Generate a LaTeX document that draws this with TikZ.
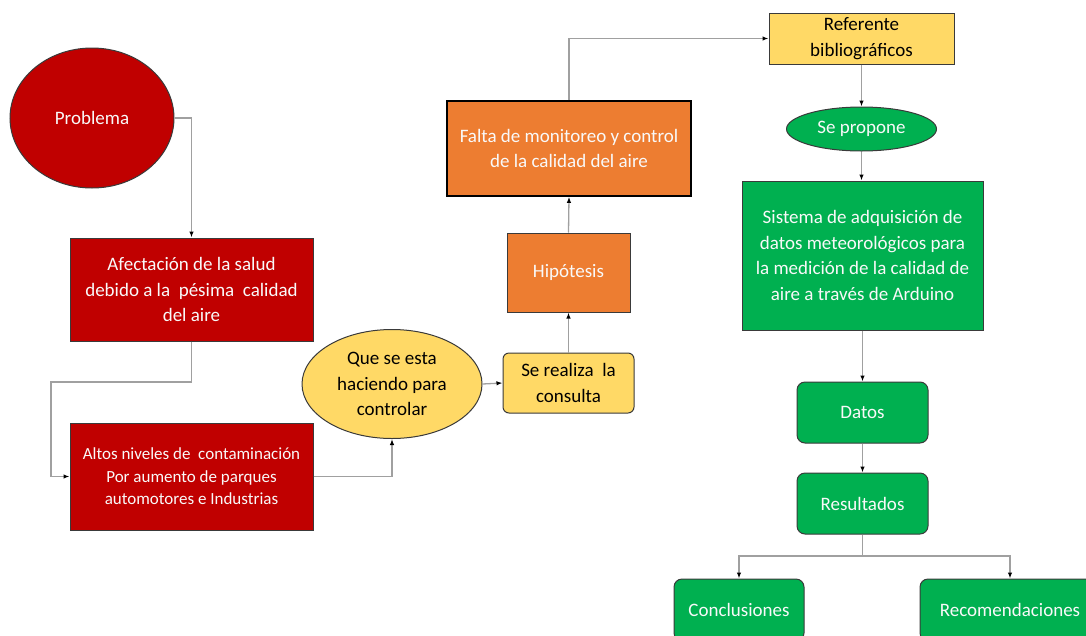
\documentclass[tikz,border=0pt]{standalone}
\usepackage{fontspec}
\setmainfont{Carlito}
\usetikzlibrary{arrows.meta,shapes.geometric}
\definecolor{cred}{HTML}{C00000}
\definecolor{corange}{HTML}{ED7D31}
\definecolor{cyellow}{HTML}{FFD966}
\definecolor{cgreen}{HTML}{00B050}
\definecolor{cline}{HTML}{A0A0A0}
\definecolor{cborder}{HTML}{3A3A3A}
\tikzset{
  base/.style={draw=cborder, line width=1pt, align=center, inner sep=2pt,
    font=\fontsize{19}{25.5}\selectfont},
  redbox/.style={base, rectangle, fill=cred, text=white!95!gray},
  orbox/.style={base, rectangle, fill=corange, text=white!95!gray},
  yelbox/.style={base, rectangle, fill=cyellow, text=black},
  grbox/.style={base, rectangle, fill=cgreen, text=white!95!gray},
  ell/.style={base, ellipse, inner sep=0pt},
  conn/.style={draw=cline, line width=1.3pt, -{Latex[length=6pt,width=4.5pt,color=black]}},
  plain/.style={draw=cline, line width=1.3pt},
}
\begin{document}
\begin{tikzpicture}[x=1pt,y=-1pt]
\useasboundingbox (0,0) rectangle (1086,635);
\clip (0,0) rectangle (1086,635);
% nodes
\node[ell, fill=cred, text=white!95!gray, minimum width=164pt, minimum height=140pt] (prob) at (92,118) {Problema};
\node[redbox, minimum width=243pt, minimum height=103pt] (afec) at (191.5,289.5)
  {Afectación de la salud\\debido a la\ \ pésima\ \ calidad\\del aire};
\node[redbox, minimum width=243pt, minimum height=107pt, font=\fontsize{17}{22.5}\selectfont] (altos) at (191.5,476.5)
  {Altos niveles de\ \ contaminación\\Por aumento de parques\\automotores e Industrias};
\node[ell, fill=cyellow, text=black, minimum width=180pt, minimum height=109pt] (que) at (392,384)
  {Que se esta\\haciendo para\\controlar};
\node[yelbox, rounded corners=6pt, minimum width=131pt, minimum height=60pt] (serea) at (568.5,383)
  {Se realiza\ \ la\\consulta};
\node[orbox, minimum width=123pt, minimum height=79pt] (hip) at (568.5,272.5) {Hipótesis};
\node[orbox, draw=black, line width=1.6pt, minimum width=244pt, minimum height=95pt] (falta) at (569,148.5)
  {Falta de monitoreo y control\\de la calidad del aire};
\node[yelbox, minimum width=185pt, minimum height=51pt] (ref) at (861.5,38.5)
  {Referente\\bibliográficos};
\node[ell, fill=cgreen, text=white!95!gray, minimum width=150pt, minimum height=44pt] (sepro) at (861.5,129) {Se propone};
\node[grbox, minimum width=241pt, minimum height=149pt] (sist) at (862.5,255.5)
  {Sistema de adquisición de\\datos meteorológicos para\\la medición de la calidad de\\aire a través de Arduino};
\node[grbox, rounded corners=8pt, minimum width=131pt, minimum height=61pt] (datos) at (862.5,412.5) {Datos};
\node[grbox, rounded corners=8pt, minimum width=131pt, minimum height=61pt] (res) at (862.5,503.5) {Resultados};
\node[grbox, rounded corners=8pt, minimum width=130pt, minimum height=62pt] (concl) at (739,610) {Conclusiones};
\node[grbox, rounded corners=8pt, minimum width=180pt, minimum height=62pt] (recom) at (1010,610) {Recomendaciones};
% connectors
\draw[conn] (prob.east) -| (afec.north);
\coordinate (k1) at (51,382);
\draw[conn] (afec.south) |- (k1) |- (altos.west);
\draw[conn] (altos.east) -| (que.south);
\draw[conn] (que.east) -- (serea.west);
\draw[conn] (serea.north) -- (hip.south);
\draw[conn] (hip.north) -- (falta.south);
\draw[conn] (falta.north) |- (ref.west);
\draw[conn] (ref.south) -- (ref.south |- sepro.north);
\draw[conn] (sepro.south) -- (sepro.south |- sist.north);
\draw[conn] (sist.south) -- (datos.north);
\draw[conn] (datos.south) -- (res.north);
\coordinate (split) at (862.5,556);
\draw[plain] (res.south) -- (split);
\draw[conn] (split) -| (concl.north);
\draw[conn] (split) -| (recom.north);
\end{tikzpicture}
\end{document}
